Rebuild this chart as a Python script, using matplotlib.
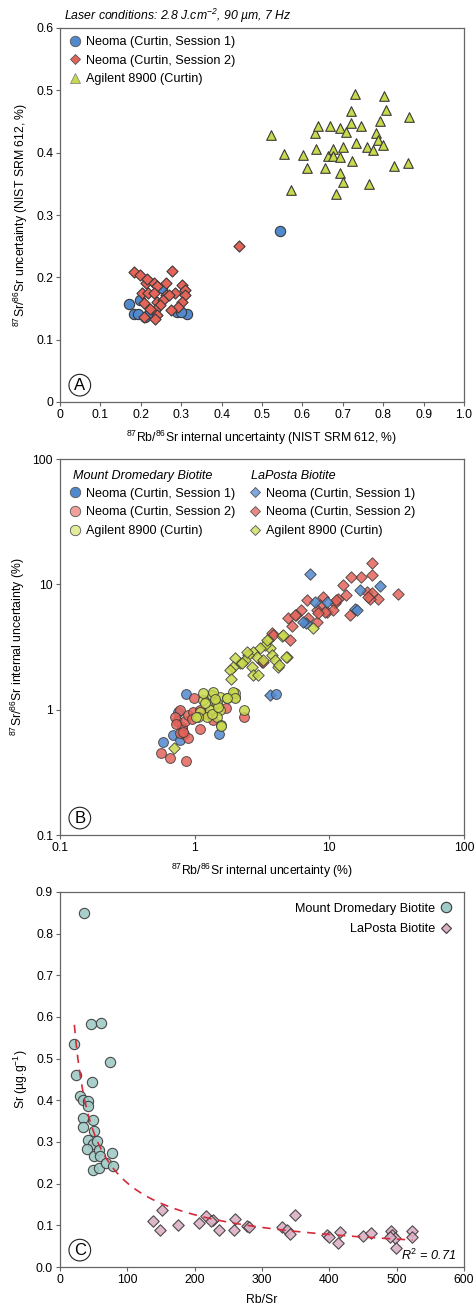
import numpy as np
import matplotlib
matplotlib.use("Agg")
import matplotlib.pyplot as plt
from matplotlib.lines import Line2D

plt.rcParams['font.family'] = ['Liberation Sans', 'DejaVu Sans']
plt.rcParams['mathtext.fontset'] = 'custom'
plt.rcParams['mathtext.rm'] = 'Liberation Sans'
plt.rcParams['mathtext.it'] = 'Liberation Sans:italic'
plt.rcParams['font.size'] = 8.8

# ---------------- data: panel A (NIST SRM 612 uncertainties, %) ----------------
a_neo1_x = [0.172, 0.182, 0.199, 0.211, 0.223, 0.252, 0.290, 0.314, 0.300, 0.194, 0.544]
a_neo1_y = [0.158, 0.141, 0.164, 0.136, 0.145, 0.183, 0.145, 0.141, 0.145, 0.141, 0.275]

a_neo2_x = [0.182, 0.198, 0.212, 0.233, 0.240, 0.263, 0.277, 0.301, 0.204, 0.217,
            0.233, 0.263, 0.285, 0.310, 0.310, 0.207, 0.240, 0.256, 0.248, 0.301,
            0.293, 0.274, 0.236, 0.240, 0.236, 0.208, 0.223, 0.269, 0.215, 0.442]
a_neo2_y = [0.209, 0.203, 0.191, 0.191, 0.186, 0.191, 0.210, 0.188, 0.175, 0.175,
            0.175, 0.172, 0.175, 0.179, 0.172, 0.159, 0.161, 0.164, 0.156, 0.161,
            0.152, 0.147, 0.148, 0.140, 0.133, 0.137, 0.150, 0.172, 0.197, 0.250]

a_agi_x = [0.523, 0.554, 0.573, 0.602, 0.612, 0.631, 0.639, 0.633, 0.655, 0.668,
           0.664, 0.676, 0.676, 0.692, 0.692, 0.694, 0.701, 0.701, 0.683, 0.709,
           0.721, 0.721, 0.724, 0.729, 0.732, 0.744, 0.761, 0.765, 0.775, 0.781,
           0.787, 0.791, 0.799, 0.801, 0.808, 0.826, 0.861, 0.864]
a_agi_y = [0.428, 0.398, 0.340, 0.396, 0.376, 0.431, 0.442, 0.406, 0.376, 0.442,
           0.394, 0.406, 0.394, 0.440, 0.393, 0.367, 0.409, 0.353, 0.334, 0.433,
           0.447, 0.467, 0.387, 0.494, 0.415, 0.442, 0.409, 0.350, 0.404, 0.432,
           0.420, 0.451, 0.412, 0.491, 0.468, 0.378, 0.383, 0.458]

# ---------------- data: panel B (internal uncertainties, %) ----------------
# Mount Dromedary biotite
b_md1_x = [0.857, 0.585, 0.693, 0.778, 1.52, 4.02, 0.755, 0.80]
b_md1_y = [1.33, 0.555, 0.627, 0.571, 0.638, 1.33, 0.96, 0.71]

b_md2_x = [0.562, 0.656, 0.861, 0.99, 1.09, 0.778, 0.743, 0.80, 0.847, 0.897,
           0.966, 0.834, 0.887, 0.778, 1.37, 1.71, 2.32, 1.09, 1.23, 0.715,
           0.723, 0.82, 0.95]
b_md2_y = [0.448, 0.413, 0.389, 1.23, 0.70, 1.0, 0.817, 0.73, 0.81, 0.906,
           0.96, 0.638, 0.59, 0.646, 0.826, 1.04, 0.869, 0.99, 0.923, 0.877,
           0.767, 0.667, 0.85]

b_md3_x = [1.16, 1.34, 1.42, 1.54, 1.73, 1.99, 1.99, 1.30, 1.09, 1.54,
           1.46, 1.58, 1.19, 2.33, 1.23, 1.06, 1.34, 1.46, 1.16, 1.37,
           1.94, 1.99, 1.73, 1.58, 1.50, 1.03, 1.42]
b_md3_y = [1.19, 1.31, 1.16, 1.27, 1.23, 1.27, 1.35, 0.99, 0.96, 0.99,
           0.877, 0.753, 1.12, 1.0, 0.877, 0.877, 0.93, 1.12, 1.35, 1.39,
           1.39, 1.23, 1.25, 0.74, 1.05, 0.877, 1.21]

# LaPosta biotite
b_lp1_x = [7.18, 23.8, 16.9, 15.5, 16.0, 9.55, 6.7, 3.62, 6.4, 7.8]
b_lp1_y = [12.2, 9.7, 9.0, 6.3, 6.24, 7.26, 4.89, 1.31, 5.03, 7.26]

b_lp2_x = [20.6, 20.6, 17.3, 14.6, 12.7, 18.9, 20.6, 23.0, 19.95, 32.5,
           13.4, 11.6, 11.0, 9.0, 8.5, 8.05, 9.55, 14.2, 6.2, 5.7,
           4.95, 5.25, 6.97, 8.05, 6.78, 10.7, 3.73, 5.1, 3.14, 3.84,
           5.56, 19.5, 11.3, 9.27, 8.28, 3.24]
b_lp2_y = [14.7, 11.9, 11.4, 11.4, 9.86, 8.73, 8.47, 7.58, 7.58, 8.3,
           8.22, 7.58, 7.05, 7.87, 6.84, 6.24, 6.04, 5.69, 6.24, 5.69,
           5.36, 4.65, 5.36, 5.03, 7.5, 6.24, 4.06, 3.59, 2.41, 3.94,
           5.69, 7.96, 7.5, 6.04, 5.86, 2.41]

b_lp3_x = [4.43, 4.82, 4.18, 3.62, 3.52, 3.33, 3.06, 2.72, 2.88, 2.5,
           2.36, 2.17, 1.99, 1.94, 1.83, 2.65, 2.72, 3.24, 3.73, 3.95,
           7.6, 1.86, 2.23, 2.43, 3.42, 4.55, 4.25, 4.77, 0.70, 2.97]
b_lp3_y = [3.87, 2.64, 2.2, 3.08, 3.59, 3.28, 3.08, 2.9, 2.64, 2.73,
           2.49, 2.34, 2.57, 2.2, 2.07, 2.2, 1.89, 2.49, 2.73, 2.49,
           4.46, 1.75, 2.34, 2.9, 3.59, 3.94, 2.27, 2.64, 0.49, 1.89]

# ---------------- data: panel C (Sr vs Rb/Sr) ----------------
c_md_x = [35.6, 45.5, 60.4, 21.3, 74.2, 23.7, 47.0, 29.7, 34.6, 42.0,
          42.0, 34.6, 34.6, 48.5, 50.9, 42.0, 48.5, 55.4, 39.6, 50.4,
          58.3, 59.4, 49.5, 58.3, 68.3, 76.7, 78.2]
c_md_y = [0.850, 0.583, 0.586, 0.535, 0.492, 0.462, 0.444, 0.410, 0.400, 0.398,
          0.387, 0.358, 0.336, 0.354, 0.326, 0.306, 0.296, 0.302, 0.283, 0.266,
          0.282, 0.266, 0.234, 0.238, 0.250, 0.274, 0.243]

c_lp_x = [138.5, 148.4, 150.9, 174.7, 206.3, 216.7, 227.6, 236.0, 258.7, 260.2,
          278.0, 281.0, 330.0, 337.4, 341.3, 348.7, 395.8, 399.7, 415.5, 413.0,
          450.0, 462.6, 492.2, 493.7, 497.2, 490.8, 499.7, 523.5, 523.5, 225.0]
c_lp_y = [0.110, 0.090, 0.138, 0.100, 0.106, 0.123, 0.114, 0.088, 0.090, 0.115,
          0.099, 0.096, 0.095, 0.088, 0.080, 0.124, 0.076, 0.073, 0.083, 0.058,
          0.075, 0.082, 0.086, 0.078, 0.070, 0.073, 0.046, 0.086, 0.072, 0.110]

blue = '#5189cf'
red = '#e4645a'
yel = '#c9d94c'
teal = '#a0cac6'
pink = '#dcb0c6'
edge = '#3a3a3a'

FS = 8.8    # tick / axis label size
LFS = 9.1   # legend size

fig = plt.figure(figsize=(4.77, 13.09), dpi=100)


def style_axes(ax):
    for s in ax.spines.values():
        s.set_color('#666666')
        s.set_linewidth(0.9)
    ax.tick_params(direction='out', length=3, width=0.8, color='#666666',
                   labelsize=FS, pad=2, top=False, right=False)


def badge(ax, letter):
    ax.text(0.049, 0.045, letter, transform=ax.transAxes, fontsize=12,
            ha='center', va='center',
            bbox=dict(boxstyle='circle,pad=0.2', fc='white', ec='#222222', lw=0.8))


# ---------------- Panel A ----------------
axA = fig.add_axes([60/477, 1 - 402/1309, 404/477, 374/1309])
axA.scatter(a_neo1_x, a_neo1_y, s=55, marker='o', c=blue, edgecolors=edge, linewidths=0.8, zorder=3)
axA.scatter(a_neo2_x, a_neo2_y, s=32, marker='D', c=red, edgecolors=edge, linewidths=0.8, zorder=4)
axA.scatter(a_agi_x, a_agi_y, s=48, marker='^', c=yel, edgecolors=edge, linewidths=0.8, zorder=3)
axA.set_xlim(0, 1.0)
axA.set_ylim(0, 0.6)
axA.set_xticks(np.arange(0, 1.01, 0.1))
axA.set_xticklabels(['0'] + ['%.1f' % v for v in np.arange(0.1, 1.01, 0.1)])
axA.set_yticks(np.arange(0, 0.61, 0.1))
axA.set_yticklabels(['0'] + ['%.1f' % v for v in np.arange(0.1, 0.61, 0.1)])
axA.set_xlabel(r'$^{87}$Rb/$^{86}$Sr internal uncertainty (NIST SRM 612, %)', fontsize=FS, labelpad=6)
axA.set_ylabel(r'$^{87}$Sr/$^{86}$Sr uncertainty (NIST SRM 612, %)', fontsize=FS, labelpad=4)
style_axes(axA)
hA = [Line2D([], [], ls='', marker='o', ms=7.5, mfc=blue, mec='#555555', mew=0.6),
      Line2D([], [], ls='', marker='D', ms=5.5, mfc=red, mec='#555555', mew=0.6),
      Line2D([], [], ls='', marker='^', ms=7, mfc=yel, mec='#888888', mew=0.6)]
axA.legend(hA, ['Neoma (Curtin, Session 1)', 'Neoma (Curtin, Session 2)', 'Agilent 8900 (Curtin)'],
           loc='upper left', frameon=False, fontsize=LFS, handletextpad=0.3,
           labelspacing=0.52, borderaxespad=0.25, handlelength=1.1)
axA.text(0.01, 1.008, r'Laser conditions: 2.8 J.cm$^{\mathregular{-2}}$, 90 µm, 7 Hz', transform=axA.transAxes,
         fontsize=FS, style='italic', ha='left', va='bottom')
badge(axA, 'A')

# ---------------- Panel B ----------------
axB = fig.add_axes([60/477, 1 - 835/1309, 404/477, 376/1309])
kw = dict(edgecolors=edge, linewidths=0.7, alpha=0.85)
axB.scatter(b_lp2_x, b_lp2_y, s=34, marker='D', c=red, zorder=3, **kw)
axB.scatter(b_lp1_x, b_lp1_y, s=34, marker='D', c=blue, zorder=3, **kw)
axB.scatter(b_lp3_x, b_lp3_y, s=34, marker='D', c=yel, zorder=3, **kw)
axB.scatter(b_md1_x, b_md1_y, s=50, marker='o', c=blue, zorder=4, **kw)
axB.scatter(b_md2_x, b_md2_y, s=50, marker='o', c=red, zorder=4, **kw)
axB.scatter(b_md3_x, b_md3_y, s=50, marker='o', c=yel, zorder=4, **kw)
axB.set_xscale('log')
axB.set_yscale('log')
axB.set_xlim(0.1, 100)
axB.set_ylim(0.1, 100)
axB.set_xticks([0.1, 1, 10, 100])
axB.set_xticklabels(['0.1', '1', '10', '100'])
axB.set_yticks([0.1, 1, 10, 100])
axB.set_yticklabels(['0.1', '1', '10', '100'])
axB.minorticks_off()
axB.set_xlabel(r'$^{87}$Rb/$^{86}$Sr internal uncertainty (%)', fontsize=FS, labelpad=6)
axB.set_ylabel(r'$^{87}$Sr/$^{86}$Sr internal uncertainty (%)', fontsize=FS, labelpad=4)
style_axes(axB)
hB = [Line2D([], [], ls='', marker='o', ms=7.5, mfc=blue, mec='#555555', mew=0.6),
      Line2D([], [], ls='', marker='o', ms=7.5, mfc='#f0a09a', mec='#555555', mew=0.6),
      Line2D([], [], ls='', marker='o', ms=7.5, mfc='#e4ec9a', mec='#555555', mew=0.6),
      Line2D([], [], ls='', marker='D', ms=5.5, mfc='#7ea7dc', mec='#555555', mew=0.6),
      Line2D([], [], ls='', marker='D', ms=5.5, mfc='#ec8a82', mec='#555555', mew=0.6),
      Line2D([], [], ls='', marker='D', ms=5.5, mfc='#d8e47a', mec='#555555', mew=0.6)]
labB = ['Neoma (Curtin, Session 1)', 'Neoma (Curtin, Session 2)', 'Agilent 8900 (Curtin)'] * 2
axB.legend(hB, labB, ncol=2, loc='upper left', bbox_to_anchor=(0.0, 0.945), frameon=False,
           fontsize=LFS, handletextpad=0.3, labelspacing=0.52, columnspacing=1.0,
           borderaxespad=0.25, handlelength=1.1)
axB.text(0.032, 0.955, 'Mount Dromedary Biotite', transform=axB.transAxes, fontsize=LFS,
         style='italic', ha='left', va='center')
axB.text(0.473, 0.955, 'LaPosta Biotite', transform=axB.transAxes, fontsize=LFS,
         style='italic', ha='left', va='center')
badge(axB, 'B')

# ---------------- Panel C ----------------
axC = fig.add_axes([60/477, 1 - 1267/1309, 404/477, 375/1309])
axC.scatter(c_md_x, c_md_y, s=55, marker='o', c=teal, edgecolors=edge, linewidths=0.8, alpha=0.9, zorder=3)
axC.scatter(c_lp_x, c_lp_y, s=34, marker='D', c=pink, edgecolors=edge, linewidths=0.8, alpha=0.9, zorder=3)

# power-law fit (y = a x^b) over both biotites
fx = np.array(c_md_x + c_lp_x)
fy = np.array(c_md_y + c_lp_y)
b_fit, loga = np.polyfit(np.log(fx), np.log(fy), 1)
xx = np.linspace(fx.min(), fx.max(), 200)
axC.plot(xx, np.exp(loga) * xx ** b_fit, ls=(0, (5, 4)), color='#d42a3a', lw=1.2, zorder=4)

axC.set_xlim(0, 600)
axC.set_ylim(0, 0.9)
axC.set_xticks(np.arange(0, 601, 100))
axC.set_yticks(np.arange(0, 0.91, 0.1))
axC.set_yticklabels(['%.1f' % v for v in np.arange(0, 0.91, 0.1)])
axC.set_xlabel('Rb/Sr', fontsize=FS, labelpad=6)
axC.set_ylabel(r'Sr (µg.g$^{\mathregular{-1}}$)', fontsize=FS, labelpad=4)
style_axes(axC)
hC = [Line2D([], [], ls='', marker='o', ms=7.5, mfc=teal, mec=edge, mew=0.8),
      Line2D([], [], ls='', marker='D', ms=5.5, mfc=pink, mec=edge, mew=0.8)]
axC.legend(hC, ['Mount Dromedary Biotite', 'LaPosta Biotite'], loc='upper right',
           markerfirst=False, frameon=False, fontsize=LFS, handletextpad=0.3,
           labelspacing=0.68, borderaxespad=0.45, handlelength=1.1)
axC.text(0.98, 0.012, r'$R^{2}$ = 0.71', transform=axC.transAxes, fontsize=LFS,
         style='italic', ha='right', va='bottom')
badge(axC, 'C')

fig.savefig('out.png', dpi=100)
